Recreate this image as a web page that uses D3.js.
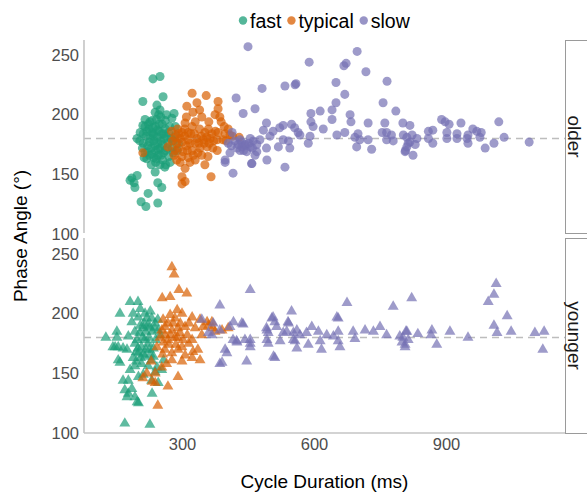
<!DOCTYPE html>
<html>
<head>
  <meta charset="utf-8">
  <script src="https://cdn.jsdelivr.net/npm/d3@7"></script>
  <style>
    body { margin: 0; background: #ffffff; }
    text { font-family: "Liberation Sans", Arial, sans-serif; }
    .tick text { font-size: 16.5px; fill: #4d4d4d; }
    text.axisTitle { font-size: 19px; fill: #000000; }
    text.legendLabel { font-size: 19.5px; fill: #000000; }
    text.stripLabel { font-size: 19px; fill: #1a1a1a; }
    path.domain { display: none; }
  </style>
</head>
<body>
<script>

// values: [cycle duration (ms), phase angle (deg)]
var groups = ['fast', 'typical', 'slow'];
var colours = ['#1b9e77', '#d95f02', '#7570b3'];
var facets = ['older', 'younger'];
var xTicks = [300, 600, 900];
var yTicks = [100, 150, 200, 250];

var olderFast = [
  [234,230],[250,232],[257,215],[211,211],[243,208],[250,204],[239,202],[282,201],[277,197],[216,196],
  [227,194],[211,191],[198,180],[214,164],[216,168],[220,163],[186,147],[198,149],[191,143],[193,139],
  [182,145],[239,152],[245,143],[254,139],[223,134],[207,127],[218,123],[245,126],[261,156],[273,160],
  [280,168],[289,170],[225,188],[232,185],[240,190],[248,186],[255,192],[262,188],[270,185],[218,182],
  [228,180],[236,178],[244,181],[252,178],[260,180],[268,176],[212,176],[222,174],[230,172],[240,170],
  [250,172],[258,168],[266,172],[235,184],[245,176],[226,166],[236,164],[246,166],[256,162],[232,195],
  [242,196],[252,198],[262,195],[205,185],[210,172],[275,180],[285,190],[280,178],[265,200],[270,165],
  [240,160],[250,158],[230,158],[220,186],[238,174],[248,192],[258,184],[204,178],[216,190],[286,183],
  [292,176],[263,158],[224,192],[234,189],[244,187],[254,184],[264,182],[226,177],[236,182],[246,171],
  [256,175],[222,169],[232,167],[242,163],[252,166],[262,170],[272,190],[278,172],[212,184],[247,200]
];
var olderTypical = [
  [323,218],[355,216],[311,207],[334,210],[382,211],[382,205],[375,200],[386,198],[389,194],[345,198],
  [361,194],[330,194],[307,193],[323,190],[300,185],[314,185],[352,185],[368,184],[382,185],[398,184],
  [409,183],[284,181],[300,177],[314,179],[334,180],[348,179],[364,180],[380,179],[393,179],[268,173],
  [284,170],[302,169],[323,170],[341,172],[357,173],[370,172],[300,165],[314,164],[330,162],[345,166],
  [359,165],[307,155],[300,148],[307,144],[300,142],[366,148],[211,168],[380,170],[290,188],[296,180],
  [310,174],[320,184],[330,176],[340,188],[350,176],[360,188],[372,178],[292,172],[318,160],[336,168],
  [276,186],[288,162],[352,158],[396,190],[405,188],[415,182],[430,181],[325,202],[340,204],[310,198],
  [278,178],[292,184],[306,182],[318,176],[328,184],[344,182],[356,181],[376,186],[288,176],[312,170],
  [326,166],[296,160],[338,176],[362,176],[400,178],[306,188],[282,166]
];
var olderSlow = [
  [450,257],[589,244],[698,253],[673,243],[668,241],[718,236],[482,222],[534,224],[559,226],[650,227],
  [766,228],[670,217],[757,210],[650,210],[466,205],[439,201],[593,201],[614,203],[641,204],[786,203],
  [641,196],[593,194],[598,190],[682,200],[684,194],[723,193],[761,193],[755,185],[802,193],[423,214],
  [492,193],[485,187],[507,186],[522,189],[530,191],[549,192],[556,189],[568,183],[591,182],[621,188],
  [652,183],[670,185],[700,184],[693,181],[704,179],[723,179],[765,185],[776,183],[803,183],[780,178],
  [765,179],[587,176],[542,178],[530,179],[519,173],[545,172],[564,185],[500,182],[477,179],[462,178],
  [492,172],[470,169],[447,169],[466,166],[455,173],[443,175],[436,173],[697,173],[731,171],[808,170],
  [814,176],[458,159],[534,156],[818,191],[890,196],[898,194],[907,192],[934,193],[1020,194],[860,186],
  [870,187],[902,185],[902,180],[925,184],[925,180],[948,180],[950,183],[961,188],[970,186],[980,185],
  [977,181],[950,176],[989,172],[1009,176],[1032,181],[1089,177],[811,181],[823,183],[834,180],[818,177],
  [830,175],[807,169],[825,166],[811,173],[860,180],[870,176],[414,185],[409,168],[398,162],[416,151],
  [432,170],[432,179],[405,176],[412,174],[420,178],[428,175],[436,177],[444,174],[452,176],[460,172],
  [470,175],[425,172],[440,170],[455,180],[398,160],[459,159],[493,162],[557,225]
];

var youngerFast = [
  [127,180],[152,185],[152,180],[159,200],[182,210],[200,210],[143,172],[155,172],[166,171],[175,170],
  [178,181],[193,185],[212,188],[227,189],[239,192],[186,193],[201,197],[216,200],[189,200],[205,204],
  [231,196],[246,186],[250,182],[193,175],[208,172],[223,175],[235,171],[201,167],[216,164],[189,163],
  [231,161],[208,158],[223,156],[193,156],[182,153],[239,151],[201,147],[212,149],[178,144],[231,144],
  [186,137],[178,133],[193,130],[201,125],[170,108],[227,107],[254,153],[258,161],[246,142],[155,161],
  [148,172],[159,159],[166,144],[170,136],[175,130],[198,126],[232,133],[243,155],[205,190],[218,185],
  [225,180],[210,180],[198,178],[240,178],[245,195],[220,196],[232,185],[212,166],[226,170],[196,168],
  [235,164],[215,178],[228,202],[238,188],[204,184],[214,192],[222,190],[200,171],[218,170],[206,163],
  [228,166],[196,160]
];
var youngerTypical = [
  [277,239],[282,233],[293,220],[311,217],[255,213],[273,214],[289,203],[300,200],[273,199],[257,195],
  [323,197],[341,195],[368,193],[391,186],[261,189],[277,186],[291,188],[307,189],[330,188],[348,189],
  [370,188],[250,180],[268,178],[284,180],[302,178],[323,178],[243,172],[261,170],[277,167],[291,170],
  [307,165],[325,168],[336,170],[341,161],[323,163],[277,161],[254,155],[239,150],[291,147],[211,146],
  [268,139],[239,142],[245,123],[262,182],[280,192],[295,184],[312,182],[270,174],[286,174],[300,172],
  [258,176],[316,192],[345,182],[360,190],[375,185],[405,188],[230,160],[220,150],[265,158],[300,160],
  [315,175],[357,193],[232,143],[268,192],[284,196],[296,192],[254,186],[274,182],[290,180],[256,166]
];
var youngerSlow = [
  [455,220],[386,207],[345,195],[371,192],[360,184],[386,186],[417,193],[409,189],[439,191],[424,177],
  [455,175],[402,167],[386,158],[447,160],[508,164],[493,186],[504,196],[515,189],[549,202],[561,186],
  [553,178],[493,178],[530,184],[436,192],[416,178],[425,176],[398,170],[391,159],[443,178],[368,182],
  [675,209],[780,206],[655,196],[507,197],[511,193],[492,188],[496,184],[542,192],[538,185],[553,184],
  [568,182],[583,184],[595,189],[610,185],[629,182],[644,181],[655,185],[689,185],[716,186],[735,185],
  [750,189],[765,182],[795,181],[809,185],[814,178],[807,174],[455,178],[455,172],[496,175],[523,177],
  [557,177],[561,171],[587,174],[614,177],[617,170],[655,177],[659,172],[693,179],[511,163],[541,193],
  [652,197],[1014,225],[1009,216],[996,210],[1039,198],[822,213],[1009,190],[1016,184],[1048,185],[1102,184],
  [1123,185],[1120,170],[950,180],[909,185],[868,186],[866,182],[879,174],[836,183],[811,185],[802,180],
  [807,172],[800,176]
];

var olderData = [olderFast, olderTypical, olderSlow];
var youngerData = [youngerFast, youngerTypical, youngerSlow];

var width = 587, height = 495;
var panelLeft = 84, panelRight = 565;

var svg = d3.select('body').append('svg')
  .attr('width', width)
  .attr('height', height);

var x = d3.scaleLinear().domain([0, 1000]).range([50, 490]);
var colour = d3.scaleOrdinal().domain(groups).range(colours);

var panels = [
  {name: facets[0], top: 40, bottom: 233, y: d3.scaleLinear().domain([100, 250]).range([234, 55]),
   symbol: d3.symbolCircle, size: 64, data: olderData},
  {name: facets[1], top: 238, bottom: 433, y: d3.scaleLinear().domain([100, 250]).range([433, 254]),
   symbol: d3.symbolTriangle, size: 52, data: youngerData}
];

panels.forEach(function(p) {
  var g = svg.append('g').attr('class', 'panel');

  // reference line at 180
  g.append('line')
    .attr('x1', panelLeft).attr('x2', panelRight)
    .attr('y1', p.y(180)).attr('y2', p.y(180))
    .style('stroke', '#bdbdbd')
    .style('stroke-width', 1.5)
    .style('stroke-dasharray', '7,5');

  // points
  groups.forEach(function(grp, i) {
    g.selectAll('path.pt-' + grp)
      .data(p.data[i])
      .enter().append('path')
      .attr('class', 'pt-' + grp)
      .attr('d', d3.symbol().type(p.symbol).size(p.size))
      .attr('transform', d => `translate(${x(d[0])},${p.y(d[1])})`)
      .style('fill', colour(grp))
      .style('fill-opacity', 0.7);
  });

  // y axis
  g.append('g')
    .attr('transform', `translate(${panelLeft},0)`)
    .call(d3.axisLeft(p.y).tickValues(yTicks).tickSize(0).tickPadding(5));

  g.append('line')
    .attr('x1', panelLeft).attr('x2', panelLeft)
    .attr('y1', p.top).attr('y2', p.bottom)
    .style('stroke', '#c4c4c4')
    .style('stroke-width', 1.6);

  // strip on the right
  g.append('rect')
    .attr('x', panelRight + 0.5).attr('y', p.top + 0.5)
    .attr('width', 40).attr('height', p.bottom - p.top)
    .style('fill', '#ffffff')
    .style('stroke', '#9a9a9a')
    .style('stroke-width', 1);

  g.append('text')
    .attr('class', 'stripLabel')
    .attr('transform', `translate(568,${(p.top + p.bottom) / 2}) rotate(90)`)
    .style('text-anchor', 'middle')
    .text(p.name);
});

// x axis under the bottom panel
svg.append('g')
  .attr('transform', 'translate(0,433)')
  .call(d3.axisBottom(x).tickValues(xTicks).tickSize(0).tickPadding(5));

svg.append('line')
  .attr('x1', panelLeft).attr('x2', panelRight)
  .attr('y1', 433).attr('y2', 433)
  .style('stroke', '#c4c4c4')
  .style('stroke-width', 1.6);

svg.append('text')
  .attr('class', 'axisTitle')
  .attr('x', (panelLeft + panelRight) / 2)
  .attr('y', 488)
  .style('text-anchor', 'middle')
  .text('Cycle Duration (ms)');

svg.append('text')
  .attr('class', 'axisTitle')
  .attr('transform', 'translate(27,236) rotate(-90)')
  .style('text-anchor', 'middle')
  .text('Phase Angle (°)');

// legend
var legend = svg.append('g').attr('class', 'legend');
var lx = 243;
groups.forEach(function(grp) {
  legend.append('circle')
    .attr('cx', lx).attr('cy', 20.5).attr('r', 4.2)
    .style('fill', colour(grp))
    .style('fill-opacity', 0.75);
  var t = legend.append('text')
    .attr('class', 'legendLabel')
    .attr('x', lx + 7)
    .attr('y', 28)
    .text(grp);
  lx += 7 + t.node().getComputedTextLength() + 10;
});

</script>
</body>
</html>
